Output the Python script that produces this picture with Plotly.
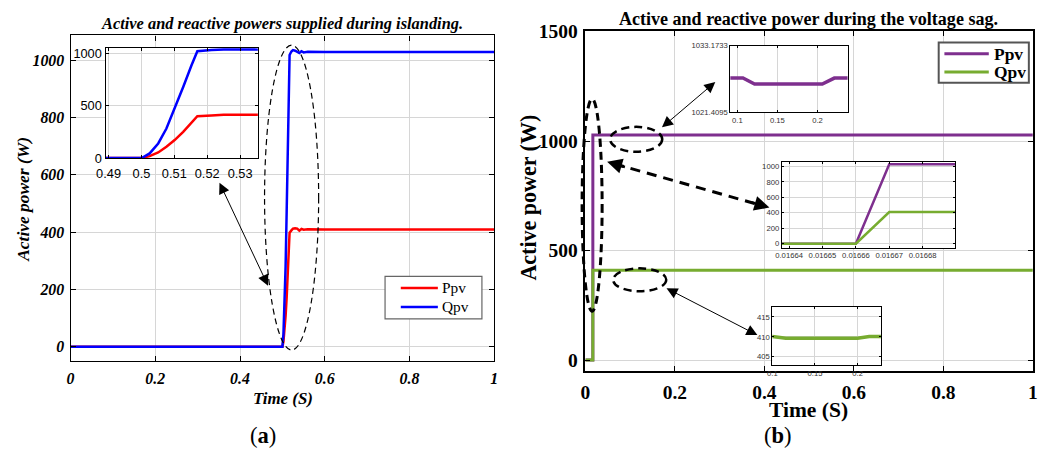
import plotly.graph_objects as go

# ---------------------------------------------------------------------------
# Data
# ---------------------------------------------------------------------------
# (a) islanding: time (s), active / reactive power (W)
t_island = [0.0, 0.5, 0.5001, 0.5025, 0.5051, 0.5076, 0.5101, 0.5127, 0.5152,
            0.5170, 0.5213, 0.525, 0.530, 0.535, 0.540, 0.545, 0.550, 0.560,
            0.600, 1.0]
ppv_island = [0, 0, 0, 18, 53, 107, 171, 250, 338, 398, 406, 412, 413, 412,
              405, 411, 408, 410, 409, 409]
qpv_island = [0, 0, 0, 44, 139, 281, 471, 676, 882, 1018, 1030, 1035, 1033,
              1030, 1025, 1031, 1027, 1029, 1028, 1028]

# (b) voltage sag
t_sag_p = [0.0, 0.01666, 0.01667, 0.107, 0.1215, 0.206, 0.221, 1.0]
ppv_sag = [0, 0, 1027.46, 1027.46, 1026.40, 1026.40, 1027.46, 1027.46]
t_sag_q = [0.0, 0.01666, 0.01667, 0.1, 0.1157, 0.2, 0.2137, 1.0]
qpv_sag = [0, 0, 410.1, 410.1, 409.65, 409.65, 410.1, 410.1]

series_names = ["Ppv", "Qpv"]

# tick labels
main_ticks_x = [0, 0.2, 0.4, 0.6, 0.8, 1]
zoom_a_ticks_x = [0.49, 0.5, 0.51, 0.52, 0.53]
zoom_b1_ticks_y = [1021.4095, 1033.1733]
zoom_b1_labels_y = ["1021.4095", "1033.1733"]
zoom_b1_ticks_x = [0.1, 0.15, 0.2]
zoom_b2_ticks_x = [0.01664, 0.01665, 0.01666, 0.01667, 0.01668]
zoom_b2_labels_x = ["0.01664", "0.01665", "0.01666", "0.01667", "0.01668"]
zoom_b3_ticks_y = [405, 410, 415]

# ---------------------------------------------------------------------------
# Layout helpers: positions are given in window pixels; the page body keeps
# an 8px margin around the figure, which these helpers compensate for.
W, H, BODY = 1051, 453, 8
SX, SY = (W + 2 * BODY) / W, (H + 2 * BODY) / H
FS = 1.025  # font compensation


def fx(px):
    return (px * SX - BODY) / W


def fy(py):
    return 1 - (py * SY - BODY) / H


SERIF = "Liberation Serif"
SANS = "Liberation Sans"
RED, BLUE = "#ff0000", "#0000ff"
PURPLE, GREEN = "#7E2F8E", "#77AC30"
GRID = "#d6d6d6"

fig = go.Figure()


def line_trace(x, y, color, width, xa, ya, name):
    return go.Scatter(x=x, y=y, name=name, mode="lines", showlegend=False,
                      line=dict(color=color, width=width), xaxis=xa, yaxis=ya)


# (a) main and zoom
fig.add_trace(line_trace(t_island, ppv_island, RED, 2.5, "x", "y", series_names[0]))
fig.add_trace(line_trace(t_island, qpv_island, BLUE, 2.5, "x", "y", series_names[1]))
fig.add_trace(line_trace(t_island, ppv_island, RED, 2.5, "x2", "y2", series_names[0]))
fig.add_trace(line_trace(t_island, qpv_island, BLUE, 2.5, "x2", "y2", series_names[1]))
# (b) main
fig.add_trace(line_trace(t_sag_p, ppv_sag, PURPLE, 3, "x3", "y3", series_names[0]))
fig.add_trace(line_trace(t_sag_q, qpv_sag, GREEN, 3, "x3", "y3", series_names[1]))
# (b) zoom 1: Ppv during sag
fig.add_trace(line_trace(t_sag_p, ppv_sag, PURPLE, 3.5, "x4", "y4", series_names[0]))
# (b) zoom 2: start-up
fig.add_trace(line_trace(t_sag_p, ppv_sag, PURPLE, 2.5, "x5", "y5", series_names[0]))
fig.add_trace(line_trace(t_sag_q, qpv_sag, GREEN, 2.5, "x5", "y5", series_names[1]))
# (b) zoom 3: Qpv during sag
fig.add_trace(line_trace(t_sag_q, qpv_sag, GREEN, 3.5, "x6", "y6", series_names[1]))


def axis(domain, rng, font, **kw):
    d = dict(domain=domain, range=rng, showline=True, mirror="ticks",
             linecolor="black", linewidth=1.2, ticks="inside", ticklen=5,
             tickcolor="black", showgrid=True, gridcolor=GRID, gridwidth=1.3,
             zeroline=False, tickfont=font)
    d.update(kw)
    return d


def font(family, size, **kw):
    return dict(family=family, size=size * FS, color=kw.pop("color", "black"), **kw)


font_a = font(SERIF, 15.5, style="italic", weight="bold")
font_b = font(SERIF, 19, weight="bold")
font_za = font(SANS, 12.5)
font_zb = font(SANS, 7.5, color="#333333")

layout_axes = dict(
    xaxis=axis([fx(69.3), fx(492.3)], [0, 1], font_a, anchor="y",
               tickvals=main_ticks_x, ticklabelstandoff=3),
    yaxis=axis([fy(360), fy(33.3)], [-50, 1086], font_a, anchor="x", dtick=200,
               ticklabelstandoff=2),
    xaxis2=axis([fx(104.3), fx(256.3)], [0.4891, 0.5354], font_za, anchor="y2",
                tickvals=zoom_a_ticks_x, ticklen=3, linewidth=1.3,
                ticklabelstandoff=3),
    yaxis2=axis([fy(156.7), fy(45.7)], [-4, 1050], font_za, anchor="x2",
                tickvals=[0, 500, 1000], ticklen=3, linewidth=1.3),
    xaxis3=axis([fx(583.3), fx(1030)], [0, 1], font_b, anchor="y3",
                tickvals=main_ticks_x, linewidth=1.5, ticklabelstandoff=3),
    yaxis3=axis([fy(370), fy(29.3)], [-50, 1500], font_b, anchor="x3",
                dtick=500, linewidth=1.5, ticklabelstandoff=2),
    xaxis4=axis([fx(728), fx(845)], [0.0913, 0.2375], font_zb, anchor="y4",
                tickvals=zoom_b1_ticks_x, ticklen=2, linewidth=1),
    yaxis4=axis([fy(110.5), fy(43.5)], [1021.4095, 1033.1733], font_zb,
                anchor="x4", tickvals=zoom_b1_ticks_y, ticktext=zoom_b1_labels_y,
                ticklen=2, linewidth=1, showgrid=False),
    xaxis5=axis([fx(779.3), fx(952.3)], [0.0166378, 0.0166897], font_zb,
                anchor="y5", tickvals=zoom_b2_ticks_x, ticktext=zoom_b2_labels_x,
                ticklen=2, linewidth=1),
    yaxis5=axis([fy(246.7), fy(160)], [-57, 1060], font_zb, anchor="x5",
                dtick=200, ticklen=2, linewidth=1),
    xaxis6=axis([fx(770), fx(878.3)], [0.1, 0.2274], font_zb, anchor="y6",
                tickvals=zoom_b1_ticks_x, ticklen=2, linewidth=1),
    yaxis6=axis([fy(364.3), fy(305.7)], [402.85, 417.5], font_zb, anchor="x6",
                tickvals=zoom_b3_ticks_y, ticklen=2, linewidth=1),
)


def text(x, y, s, size, style="normal", weight="normal", angle=0,
         family=SERIF, xanchor="center"):
    return dict(x=fx(x), y=fy(y), xref="paper", yref="paper", text=s,
                showarrow=False, textangle=angle, xanchor=xanchor,
                yanchor="middle",
                font=font(family, size, style=style, weight=weight))


def arrow(head, tail, width=1, size=1.6, both=True):
    return dict(x=fx(head[0]), y=fy(head[1]), xref="paper", yref="paper",
                ax=(tail[0] - head[0]) * SX, ay=(tail[1] - head[1]) * SY,
                text="", showarrow=True, arrowhead=2, startarrowhead=2,
                arrowside="end+start" if both else "end",
                arrowwidth=width, arrowsize=size, startarrowsize=size,
                arrowcolor="black", standoff=0, startstandoff=0)


def ellipse(x0, x1, y0, y1, width, dash):
    return dict(type="circle", xref="paper", yref="paper", x0=fx(x0), x1=fx(x1),
                y0=fy(y1), y1=fy(y0),
                line=dict(color="black", width=width, dash=dash))


def rect(x0, x1, y0, y1, color, width):
    return dict(type="rect", xref="paper", yref="paper", x0=fx(x0), x1=fx(x1),
                y0=fy(y1), y1=fy(y0), fillcolor="white",
                line=dict(color=color, width=width))


def seg(x0, y0, x1, y1, color, width, dash="solid"):
    return dict(type="line", xref="paper", yref="paper", x0=fx(x0), y0=fy(y0),
                x1=fx(x1), y1=fy(y1), line=dict(color=color, width=width,
                                                  dash=dash))


annotations = [
    text(280, 21, "Active and reactive powers supplied during islanding.", 16,
         style="italic", weight="bold"),
    text(806, 17, "Active and reactive power during the voltage sag.", 17.6,
         weight="bold"),
    text(281, 398, "Time (S)", 16.5, style="italic", weight="bold"),
    text(21, 198, "Active power (W)", 17, style="italic", weight="bold", angle=-90),
    text(806, 409, "Time (S)", 21, weight="bold"),
    text(527, 196, "Active power (W)", 21.5, weight="bold", angle=-90),
    text(261, 435, "(<b>a</b>)", 22),
    text(776, 435, "(<b>b</b>)", 22),
    # pointers between zoomed windows and the traces
    arrow((218, 181), (266.5, 282), width=1, size=2.2),
    arrow((713, 80), (659, 125), width=1, size=2.2),
    arrow((755, 334), (664, 288), width=1, size=2.2),
    # heads of the dashed pointer
    arrow((605, 160), (624, 165.5), width=2.5, size=1.2, both=False),
    arrow((767, 206), (748, 200.6), width=2.5, size=1.2, both=False),
]

shapes = [
    ellipse(263, 317, 43, 349, 1.2, "6px,4px"),
    ellipse(580, 600, 97, 310, 3, "8px,5px"),
    ellipse(608, 660, 125, 150, 2.5, "8px,5px"),
    ellipse(611, 664, 267, 290, 2.5, "8px,5px"),
    seg(612, 162, 758, 203.5, "black", 3, "10px,7px"),
]

# legend boxes
legend_a = dict(box=(383.3, 480, 275, 317.7), rows=(286.7, 305.7),
                line=(399, 436), text_x=438, colors=(RED, BLUE), lw=2.5,
                size=15, weight="normal", border="#666666", bw=1.2)
legend_b = dict(box=(936, 1026, 40.3, 80.7), rows=(51.7, 70),
                line=(941.7, 986), text_x=989, colors=(PURPLE, GREEN), lw=3,
                size=17, weight="bold", border="#555555", bw=2)
for lg in (legend_a, legend_b):
    bx0, bx1, by0, by1 = lg["box"]
    shapes.append(rect(bx0, bx1, by0, by1, lg["border"], lg["bw"]))
    for name, row, color in zip(series_names, lg["rows"], lg["colors"]):
        shapes.append(seg(lg["line"][0], row, lg["line"][1], row, color, lg["lw"]))
        annotations.append(text(lg["text_x"], row, name, lg["size"],
                                weight=lg["weight"], xanchor="left"))

fig.update_layout(
    width=W, height=H, autosize=False,
    margin=dict(l=0, r=0, t=0, b=0, pad=0),
    paper_bgcolor="white", plot_bgcolor="white",
    showlegend=False,
    annotations=annotations, shapes=shapes,
    **layout_axes,
)

fig.write_html("out.html")
